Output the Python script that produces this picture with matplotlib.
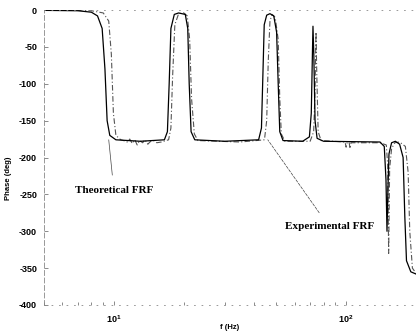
import numpy as np
import matplotlib
matplotlib.use("Agg")
import matplotlib.pyplot as plt

# --------------------------------------------------
# DATA
# --------------------------------------------------
theo_f = [5, 7.0, 8.0, 8.5, 8.9, 9.15, 9.35, 9.6, 10.2, 13, 16.5, 17.0, 17.3,
          17.6, 18.2, 19, 20.3, 20.8, 21.1, 21.5, 22.3, 30, 42, 43.2, 43.8,
          44.4, 45.5, 47, 48.8, 50.2, 51.0, 51.8, 53.5, 65, 69.5, 70.8, 71.6,
          72.0, 72.6, 73.5, 75, 80, 140, 146, 148.5, 150, 151.5, 153, 157,
          163, 170, 176, 179, 182, 190, 200]
theo_ph = [-0.5, -1, -3, -8, -25, -80, -150, -170, -176, -178, -176, -165, -100,
           -25, -6, -4, -6, -25, -100, -165, -176, -178, -176, -160, -90,
           -20, -7, -5, -8, -30, -100, -165, -177, -178, -172, -140, -60,
           -22, -60, -150, -174, -178, -179, -185, -230, -300, -240, -195, -180,
           -178, -182, -200, -280, -340, -355, -358]

exp_f = [5, 8, 9.0, 9.5, 9.75, 9.95, 10.2, 10.7, 11, 11.4, 11.7, 12.0, 12.3,
         12.6, 12.9, 13.3, 13.6, 14.0, 14.4, 14.8, 15.3, 16, 17.2, 17.6, 17.9,
         18.3, 19, 20, 20.7, 21.2, 21.6, 22.2, 23, 35, 44.5, 45.5, 46.2, 47,
         48, 49.5, 51, 51.8, 52.6, 54.5, 70, 72.5, 73.5, 74.2, 74.8, 75.8, 78,
         99, 100, 101, 103, 104, 105, 140, 149, 151, 152.5, 154, 157, 162,
         170, 180, 185, 188, 193, 200]
exp_ph = [0, -1, -4, -15, -60, -140, -170, -176, -177, -179, -175, -181, -176,
          -183, -177, -180, -176, -182, -178, -177, -180, -179, -176, -160, -90,
          -20, -5, -4, -8, -40, -120, -168, -177, -179, -176, -150, -70, -15,
          -6, -10, -40, -120, -168, -178, -178, -165, -110, -30, -90, -165, -177,
          -179, -186, -180, -179, -188, -180, -180, -183, -210, -330, -215, -188, -180,
          -179, -185, -220, -300, -350, -357]

y_ticks = [0, -50, -100, -150, -200, -250, -300, -350, -400]

TICK_FONT = ["Liberation Sans", "DejaVu Sans"]


def main():
    plt.rcParams["axes.unicode_minus"] = False
    fig = plt.figure(figsize=(4.16, 3.33), dpi=100)
    ax = fig.add_axes([44 / 416, 1 - 305 / 333, 372 / 416, 295 / 333])

    ax.semilogx(exp_f, exp_ph, color="#555555", lw=0.8, ls=(0, (5, 2, 1, 2)))
    ax.semilogx(theo_f, theo_ph, color="black", lw=0.9)

    ax.set_xlim(5, 200)
    ax.set_ylim(-400, 0)
    ax.set_yticks(y_ticks)

    # scanned-looking frame
    for side in ["left", "top", "bottom"]:
        ax.spines[side].set_color("#888888")
        ax.spines[side].set_linewidth(0.6)
    ax.spines["left"].set_linestyle((0, (6, 3)))
    ax.spines["top"].set_linestyle((0, (1, 8)))
    ax.spines["bottom"].set_linestyle((0, (1, 8)))
    ax.spines["right"].set_visible(False)

    ax.tick_params(which="both", direction="in", color="#777777",
                   labelsize=6.5, width=0.6)
    ax.tick_params(which="major", length=3, pad=5)
    ax.tick_params(which="minor", length=2)
    ax.tick_params(axis="x", pad=6)
    for lab in ax.get_xticklabels() + ax.get_yticklabels():
        lab.set_fontweight("bold")
        lab.set_family(TICK_FONT)

    ax.set_xlabel("f (Hz)", fontsize=5.5, fontweight="bold", family=TICK_FONT)
    ax.set_ylabel("Phase (deg)", fontsize=5.5, fontweight="bold", family=TICK_FONT)
    ax.yaxis.set_label_coords(-0.085, 0.43)
    ax.xaxis.set_label_coords(0.5, -0.065)

    # annotations
    ax.annotate("Theoretical FRF", xy=(9.5, -176), xytext=(10.0, -245),
                fontsize=8, family="Liberation Serif", fontweight="bold",
                ha="center", va="center",
                arrowprops=dict(arrowstyle="-", lw=0.5, color="#444444",
                                shrinkA=6, shrinkB=0))
    ax.annotate("Experimental FRF", xy=(46, -176), xytext=(84.5, -294),
                fontsize=8, family="Liberation Serif", fontweight="bold",
                ha="center", va="center",
                arrowprops=dict(arrowstyle="-", lw=0.5, color="#444444",
                                ls=(0, (4, 2)), shrinkA=6, shrinkB=0))

    fig.savefig("out.png", dpi=100)


if __name__ == "__main__":
    main()
